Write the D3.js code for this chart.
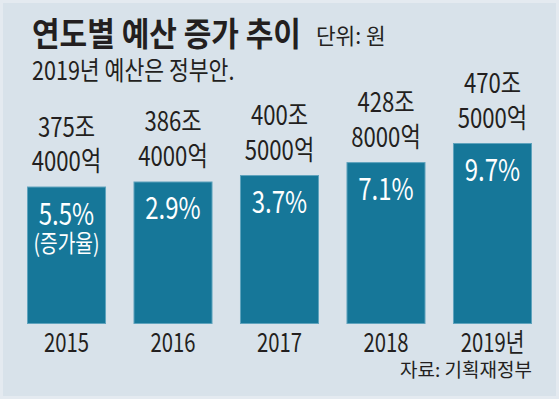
<!DOCTYPE html>
<html>
<head>
<meta charset="utf-8">
<script src="https://cdnjs.cloudflare.com/ajax/libs/d3/7.8.5/d3.min.js"></script>
<style>
  body { margin: 0; background: #d8e2ea; }
  svg { display: block; font-family: "Noto Sans CJK KR", "Noto Sans", sans-serif; }
</style>
</head>
<body>
<div id="chart"></div>
<script>
// budget per year (조 원)
var years = ["2015", "2016", "2017", "2018", "2019"];
var yearLabels = ["2015", "2016", "2017", "2018", "2019년"];
var budget = [375.4, 386.4, 400.5, 428.8, 470.5];
var joLabels = ["375조", "386조", "400조", "428조", "470조"];
var eokLabels = ["4000억", "4000억", "5000억", "8000억", "5000억"];
var growth = ["5.5%", "2.9%", "3.7%", "7.1%", "9.7%"];

var W = 559, H = 399;
var ink = "#231f20";

var svg = d3.select("#chart").append("svg")
  .attr("width", W).attr("height", H);

svg.append("rect")
  .attr("x", 1.5).attr("y", 1.5)
  .attr("width", W - 3).attr("height", H - 3)
  .attr("fill", "#d8e2ea")
  .attr("stroke", "#e4eaf0")
  .attr("stroke-width", 3);

var x = d3.scaleBand()
  .domain(years)
  .range([27, 532])
  .paddingInner(0.258)
  .paddingOuter(0);

// axis does not start at zero in the original
var y = d3.scaleLinear()
  .domain([75, 470.5])
  .range([324, 143]);

// narrow text like the newspaper font
function txt(g, str, tx, ty, size, sx, opts) {
  opts = opts || {};
  return g.append("text")
    .attr("transform", "translate(" + tx + "," + ty + ") scale(" + sx + ",1)")
    .attr("text-anchor", opts.anchor || "middle")
    .style("font-size", size + "px")
    .style("font-weight", opts.weight || 400)
    .attr("fill", opts.fill || ink)
    .text(str);
}

// title block
txt(svg, "연도별 예산 증가 추이", 32, 46, 33, 0.91, {anchor: "start", weight: 700});
txt(svg, "단위: 원", 316, 44, 22, 0.97, {anchor: "start"});
txt(svg, "2019년 예산은 정부안.", 32, 80, 26, 0.83, {anchor: "start"});

var bars = svg.append("g");
bars.selectAll("rect")
  .data(years)
  .enter().append("rect")
  .attr("x", function (d) { return x(d) + 0.5; })
  .attr("y", function (d, i) { return y(budget[i]) + 0.5; })
  .attr("width", x.bandwidth() - 1)
  .attr("height", function (d, i) { return y.range()[0] - y(budget[i]) - 1; })
  .attr("fill", "#167799")
  .attr("stroke", "#5fa3bd")
  .attr("stroke-width", 1);

var labels = svg.append("g");
years.forEach(function (d, i) {
  var cx = x(d) + x.bandwidth() / 2;
  var top = y(budget[i]);
  txt(labels, joLabels[i], cx, top - 50, 27, 0.82);
  txt(labels, eokLabels[i], cx, top - 15.5, 27, 0.82);
  txt(labels, growth[i], cx, top + 38, 30, 0.8, {fill: "#ffffff"});
  if (i === 0) {
    txt(labels, "(증가율)", cx, top + 65, 24, 0.8, {fill: "#ffffff"});
  }
  txt(labels, yearLabels[i], cx, 352, 26, 0.78);
});

txt(svg, "자료: 기획재정부", 532, 377, 19, 1.0, {anchor: "end"});
</script>
</body>
</html>
